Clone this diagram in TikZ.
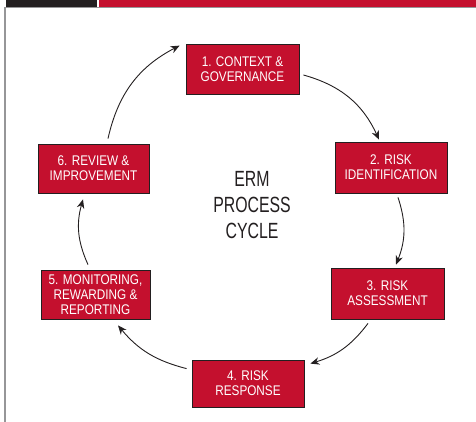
\documentclass[tikz,border=0pt]{standalone}
\usepackage{fontspec}
\setmainfont{Liberation Sans}
\newfontfamily\boxfont[FakeStretch=0.84]{Liberation Sans}
\newfontfamily\centerfont[FakeStretch=0.72]{Liberation Sans}
\usetikzlibrary{arrows.meta}
\definecolor{ermred}{RGB}{196,16,46}
\definecolor{ermdark}{RGB}{35,31,32}
\definecolor{ermgray}{RGB}{150,150,152}
\begin{document}
\begin{tikzpicture}[x=1pt,y=-1pt,
  stagebox/.style={draw=ermdark, line width=0.8pt, fill=ermred, text=white,
    font=\boxfont\fontsize{14}{15}\selectfont, align=center,
    minimum width=112pt, minimum height=50pt, inner sep=0pt},
  flow/.style={-{Stealth[length=9pt,width=7.5pt]}, line width=0.9pt, draw=ermdark},
  titletext/.style={text=ermdark, align=center, font=\centerfont\fontsize{22}{26}\selectfont}]
\useasboundingbox (0,0) rectangle (476,422);
% header bar and frame
\fill[ermdark] (6,0) rectangle (97,7);
\fill[ermred] (99,0) rectangle (476,7);
\fill[ermgray] (4,7) rectangle (476,8.5);
\fill[ermgray] (4,7) rectangle (6,422);
% stages
\node[stagebox, minimum width=113pt] (b1) at (242.5,69) {1. CONTEXT \&\\GOVERNANCE};
\node[stagebox, minimum height=51pt] (b2) at (391,167.5) {2. RISK\\IDENTIFICATION};
\node[stagebox, minimum width=113pt, minimum height=51pt] (b3) at (387.5,293.5) {3. RISK\\ASSESSMENT};
\node[stagebox, minimum height=47pt] (b4) at (248,383.5) {4. RISK\\RESPONSE};
\node[stagebox, minimum width=109pt, minimum height=49pt] (b5) at (95.5,294.5) {5. MONITORING,\\REWARDING \&\\REPORTING};
\node[stagebox, minimum width=111pt, minimum height=49pt] (b6) at (93.5,168.5) {6. REVIEW \&\\IMPROVEMENT};
\node[titletext] (title) at (252,205) {ERM\\PROCESS\\CYCLE};
% arrows
\draw[flow] ([shift={(4,6)}]b1.east) to[bend left=25] ([shift={(-12,-2)}]b2.north);
\draw[flow] ([shift={(7,4)}]b2.south) to[bend left=20] ([shift={(8.5,-3)}]b3.north);
\draw[flow] ([shift={(-19.5,4)}]b3.south) to[bend left=18] ([shift={(6,4)}]b4.north east);
\draw[flow] ([shift={(-5,9)}]b4.north west) to[bend left=18] ([shift={(22.5,6)}]b5.south);
\draw[flow] ([shift={(-7.5,-5)}]b5.north) to[bend left=20] ([shift={(-10.5,6)}]b6.south);
\draw[flow] ([shift={(14.5,-5)}]b6.north) to[bend left=25] ([shift={(-6,2)}]b1.north west);
\end{tikzpicture}
\end{document}
